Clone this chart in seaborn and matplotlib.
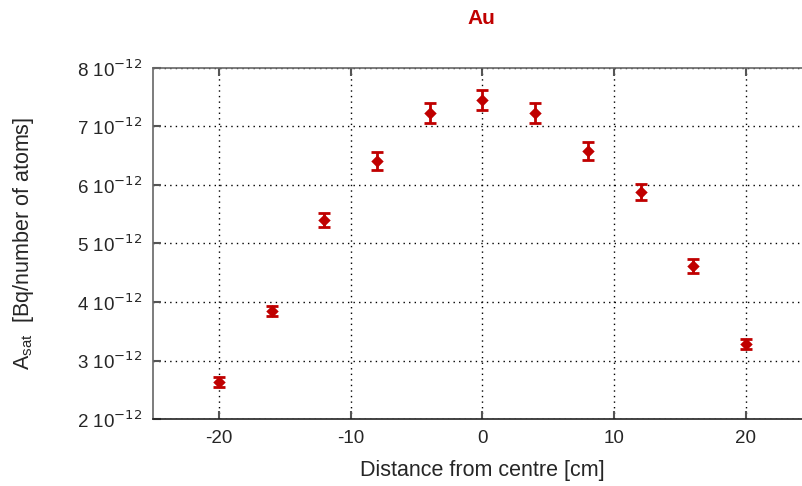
import matplotlib
matplotlib.use("Agg")
import matplotlib.pyplot as plt
import seaborn as sns
import pandas as pd
import numpy as np
from matplotlib.ticker import FuncFormatter

# Data (values in units of 1e-12 Bq/number of atoms)
distance = [-20, -16, -12, -8, -4, 0, 4, 8, 12, 16, 20]
activity = [2.63, 3.85, 5.40, 6.41, 7.23, 7.46, 7.23, 6.58, 5.885, 4.62, 3.28]
error = [0.08, 0.09, 0.12, 0.16, 0.17, 0.17, 0.17, 0.15, 0.14, 0.12, 0.08]
x_ticks = [-20, -10, 0, 10, 20]
y_ticks = [2, 3, 4, 5, 6, 7, 8]

sns.set_style("white")
plt.rcParams['font.family'] = ['Liberation Sans', 'DejaVu Sans']
plt.rcParams['axes.unicode_minus'] = False

df = pd.DataFrame({"distance": distance, "activity": activity, "error": error})

color = "#c00000"
fig = plt.figure(figsize=(8.03, 4.86), dpi=100)
ax = fig.add_axes([153 / 803, 67 / 486, 658.8 / 803, 351 / 486])

ax.errorbar(df["distance"], df["activity"], yerr=df["error"], fmt="none",
            ecolor=color, elinewidth=2, capsize=4, capthick=2, zorder=3)
sns.scatterplot(data=df, x="distance", y="activity", marker="D", color=color,
                s=40, edgecolor=color, linewidth=0, ax=ax, zorder=4, legend=False)

ax.set_xlim(-25, 25)
ax.set_ylim(2, 8)
ax.set_xticks(x_ticks)
ax.set_yticks(y_ticks)
ax.yaxis.set_major_formatter(FuncFormatter(lambda v, p: r"%d 10$^{-12}$" % round(v)))
ax.grid(True, color="black", linestyle=(0, (1, 3)), linewidth=1.0)
ax.set_axisbelow(True)

for s in ["left", "bottom", "top"]:
    ax.spines[s].set_visible(True)
    ax.spines[s].set_linewidth(1.2)
ax.spines["right"].set_visible(False)
ax.spines["bottom"].set_color("#222222")
ax.spines["left"].set_color("#666666")
ax.spines["top"].set_color("#666666")

ax.tick_params(axis="both", direction="in", length=6, width=1.5, color="#555555",
               labelsize=13.5, top=True, bottom=True, left=True, right=False)
ax.tick_params(axis="x", pad=8)
ax.tick_params(axis="y", pad=8)

ax.set_xlabel("Distance from centre [cm]", fontsize=15.5, labelpad=9)
ax.set_ylabel(r"A$_{\mathregular{sat}}$  [Bq/number of atoms]", fontsize=15.5, labelpad=29)

fig.text(481.5 / 803, 1 - 18 / 486, "Au", color=color, fontsize=15, fontweight="bold",
         ha="center", va="center")

fig.savefig("out.png", dpi=100)
